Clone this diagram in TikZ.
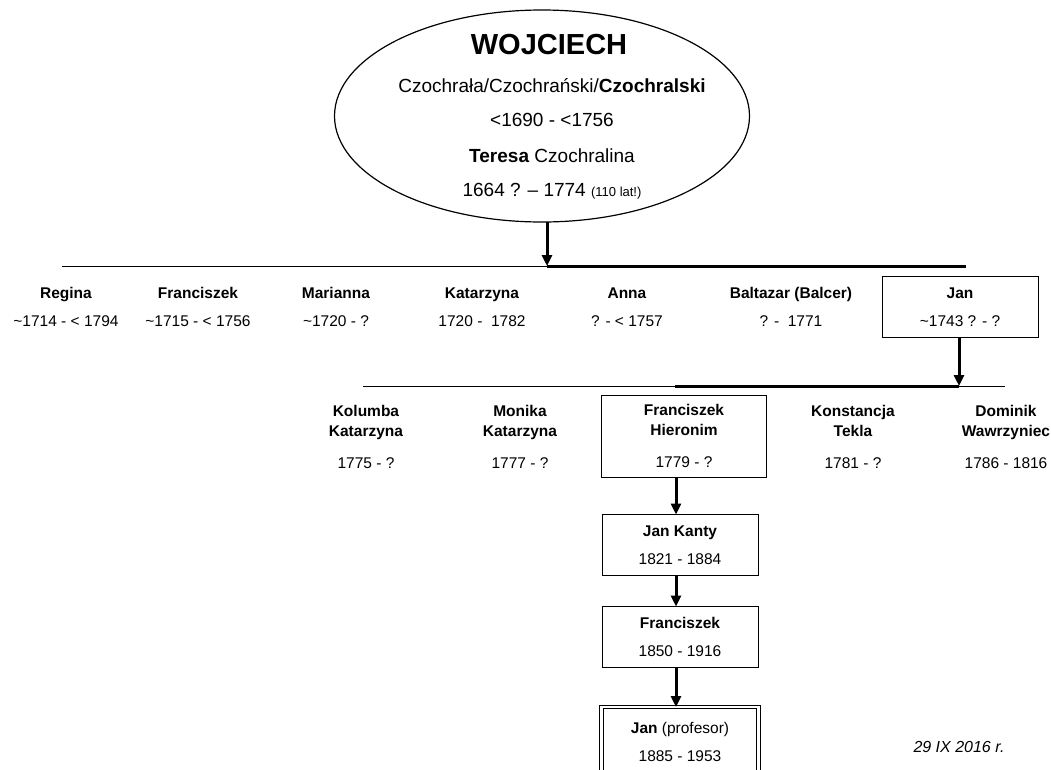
\documentclass[tikz,border=0pt]{standalone}
\usepackage{fontspec}
\setmainfont{Liberation Sans}
\usetikzlibrary{shapes.geometric,arrows.meta}
\begin{document}
\begin{tikzpicture}[x=1pt,y=-1pt,inner sep=0pt,outer sep=0pt,
lineage/.style={line width=3pt,-{Triangle[length=11pt,width=10pt]}},
famline/.style={line width=1pt},
heirline/.style={line width=3pt},
person/.style={align=center,font=\fontsize{15.5}{28}\selectfont},
sibling/.style={align=center,font=\fontsize{15.5}{20}\selectfont},
personbox/.style={person,draw,line width=1pt,minimum width=156pt,minimum height=61pt},
bigline/.style={font=\fontsize{19}{22}\selectfont}]
\clip (0,0) rectangle (1051,769);
\fill[white] (0,0) rectangle (1051,769);
% founder
\draw (542,116) node[draw,ellipse,line width=1.2pt,minimum width=415pt,minimum height=212pt] (wojciech) {};
\draw (549,45) node[font=\fontsize{29}{31}\selectfont\bfseries] (wname) {WOJCIECH};
\draw (552,86) node[bigline] (wsurname) {Czochrała/Czochrański/\textbf{Czochralski}};
\draw (552,120) node[bigline] (wdates) {<1690 - <1756};
\draw (552,156) node[bigline] (wife) {\textbf{Teresa} Czochralina};
\draw (552,191) node[bigline] (wifedates) {1664 ? -- 1774 {\fontsize{13}{15}\selectfont(110 lat!)}};
% first generation
\coordinate (gen1w) at (62,266);
\coordinate (gen1) at (547,266);
\coordinate (gen1e) at (966,266);
\draw[famline] (gen1w) -- (gen1);
\draw[heirline] (gen1) -- (gen1e);
\draw[lineage] (wojciech.south -| gen1) -- (gen1);
\draw (66,307) node[person] (regina) {\textbf{Regina}\\\textasciitilde1714 - < 1794};
\draw (198,307) node[person] (franc1) {\textbf{Franciszek}\\\textasciitilde1715 - < 1756};
\draw (336,307) node[person] (marianna) {\textbf{Marianna}\\\textasciitilde1720 - ?};
\draw (482,307) node[person] (katarzyna) {\textbf{Katarzyna}\\1720 -\ \ 1782};
\draw (627,307) node[person] (anna) {\textbf{Anna}\\? - < 1757};
\draw (791,307) node[person] (baltazar) {\textbf{Baltazar (Balcer)}\\? -\ \ 1771};
\draw (960,307) node[personbox] (jan) {\textbf{Jan}\\\textasciitilde1743 ? - ?};
% second generation
\coordinate (gen2w) at (363,386);
\coordinate (gen2m) at (675,386);
\coordinate (gen2) at (959,386);
\coordinate (gen2e) at (1005,386);
\draw[famline] (gen2w) -- (gen2e);
\draw[heirline] (gen2m) -- (gen2);
\draw[lineage] (jan.south -| gen2) -- (gen2);
\draw (366,437) node[sibling] (kolumba) {\textbf{Kolumba}\\\textbf{Katarzyna}\\[12pt]1775 - ?};
\draw (520,437) node[sibling] (monika) {\textbf{Monika}\\\textbf{Katarzyna}\\[12pt]1777 - ?};
\draw (684,436) node[sibling,draw,line width=1pt,minimum width=165pt,minimum height=82pt] (franchier) {\textbf{Franciszek}\\\textbf{Hieronim}\\[12pt]1779 - ?};
\draw (853,437) node[sibling] (konstancja) {\textbf{Konstancja}\\\textbf{Tekla}\\[12pt]1781 - ?};
\draw (1006,437) node[sibling] (dominik) {\textbf{Dominik}\\\textbf{Wawrzyniec}\\[12pt]1786 - 1816};
% direct line
\coordinate (trunk) at (676,0);
\draw (680,545) node[personbox] (kanty) {\textbf{Jan Kanty}\\1821 - 1884};
\draw (680,637) node[personbox] (franc3) {\textbf{Franciszek}\\1850 - 1916};
\draw (680,707) node[anchor=north,draw,double,double distance=2.5pt,line width=1.2pt,minimum width=157pt,minimum height=80pt] (profbox) {};
\draw (680,742) node[person] (jprof) {\textbf{Jan} (profesor)\\1885 - 1953};
\draw[lineage] (franchier.south -| trunk) -- (kanty.north -| trunk);
\draw[lineage] (kanty.south -| trunk) -- (franc3.north -| trunk);
\draw[lineage] (franc3.south -| trunk) -- (profbox.north -| trunk);
\draw (959,747) node[font=\fontsize{16}{18}\selectfont\itshape] (stamp) {29 IX 2016 r.};
\end{tikzpicture}
\end{document}
